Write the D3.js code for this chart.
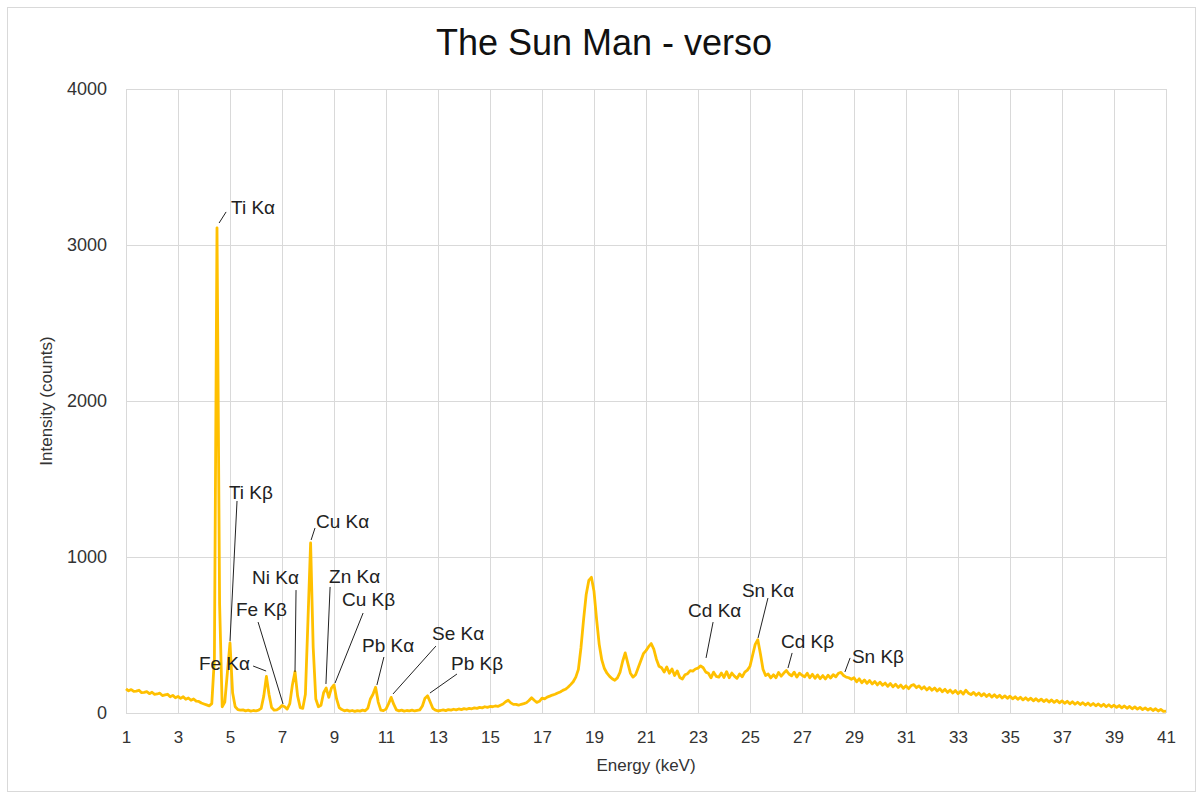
<!DOCTYPE html>
<html><head><meta charset="utf-8">
<script src="https://cdn.jsdelivr.net/npm/d3@7"></script>
<style>
body{margin:0;background:#fff;}
svg{display:block;font-family:"Liberation Sans",Arial,sans-serif;}
</style>
</head><body>
<svg id="chart" width="1203" height="798"></svg>
<script>
// ---------- data ----------
const chartTitle = "The Sun Man - verso";
const xAxisTitle = "Energy (keV)";
const yAxisTitle = "Intensity (counts)";
const xTicks = [1,3,5,7,9,11,13,15,17,19,21,23,25,27,29,31,33,35,37,39,41];
const yTicks = [0,1000,2000,3000,4000];

// spectrum channels: energy calibration (keV) of channel 0 and channel width
const energyStart = 1.0;
const energyStep = 0.1;
// counts per channel, 1.0 keV .. 41.0 keV
const counts = [
  155,142,150,138,140,146,130,132,137,124,
  133,120,122,127,112,116,120,104,113,98,
  106,94,104,88,96,82,90,76,74,64,
  58,52,46,60,350,3110,700,40,70,260,
  450,130,40,22,18,20,14,18,12,16,
  14,18,30,110,235,120,35,18,20,30,
  48,40,25,60,180,265,110,35,30,120,
  600,1090,420,90,40,50,130,160,100,160,
  180,90,35,22,14,18,12,16,10,15,
  12,18,14,30,90,120,165,70,18,15,
  25,60,100,55,20,14,18,12,16,14,
  18,13,17,20,45,95,110,70,30,18,
  14,16,20,15,22,18,24,20,26,22,
  28,24,30,27,33,30,36,33,40,36,
  42,40,45,42,50,58,72,82,65,55,
  55,50,56,60,66,80,98,82,68,75,
  95,90,102,108,115,120,128,135,145,152,
  165,182,200,230,280,420,600,760,850,870,
  780,600,440,340,285,255,235,220,210,225,
  260,330,385,320,255,230,245,290,335,380,
  400,425,445,410,345,300,290,262,295,255,
  282,240,270,228,218,245,252,272,268,282,
  288,302,290,262,255,225,262,235,230,256,
  228,265,226,256,236,222,250,232,262,275,
  300,370,440,470,380,280,240,250,225,245,
  226,260,236,256,272,250,238,262,230,255,
  242,232,255,226,248,222,244,220,240,218,
  242,224,246,232,255,260,240,230,226,216,
  226,200,219,194,212,190,208,186,202,180,
  198,178,192,171,189,168,184,164,179,158,
  174,156,176,182,162,174,154,168,148,164,
  146,160,141,156,136,152,132,147,128,144,
  124,140,121,146,127,118,132,114,128,110,
  124,106,120,102,117,100,114,96,110,94,
  108,91,104,88,101,84,98,82,95,78,
  92,76,89,73,86,70,84,68,81,65,
  78,62,75,59,72,56,69,54,66,51,
  64,48,61,46,58,43,56,40,53,38,
  50,36,48,33,45,30,42,27,39,25,
  36,22,33,19,30,16,27,13,23,11,
  12
];

// peak annotations (data space: keV, counts)
const peakNames   = ["Ti Kα","Ti Kβ","Fe Kα","Fe Kβ","Ni Kα","Cu Kα","Zn Kα","Cu Kβ","Pb Kα","Se Kα","Pb Kβ","Cd Kα","Sn Kα","Cd Kβ","Sn Kβ"];
const leaderFromE = [4.58, 5.00, 6.39, 7.04, 7.50, 8.12, 8.69, 9.04, 10.65, 11.27, 12.69, 23.31, 25.31, 26.46, 28.65];
const leaderFromC = [3141, 462, 269, 58, 263, 1109, 186, 192, 179, 122, 128, 353, 481, 288, 263];
const leaderToE   = [4.85, 5.27, 5.89, 6.08, 7.54, 8.27, 8.85, 10.12, 10.92, 12.92, 13.73, 23.58, 25.69, 26.62, 28.85];
const leaderToC   = [3212, 1359, 301, 583, 788, 1186, 808, 641, 359, 429, 250, 583, 737, 385, 353];
const labelE      = [5.04, 4.96, 5.77, 5.23, 5.85, 8.31, 8.81, 9.31, 10.08, 12.77, 13.50, 22.62, 24.69, 26.19, 28.92];
const labelC      = [3244, 1417, 321, 667, 872, 1231, 878, 731, 436, 513, 321, 660, 788, 462, 365];
const labelAlign  = ["start","start","end","start","start","start","start","start","start","start","start","start","start","start","start"];

// ---------- drawing ----------
const svg = d3.select("#chart");
const W = 1203, H = 798;
const plot = {left:126, right:1166, top:89, bottom:713};

svg.append("rect").attr("x",7.5).attr("y",7.5).attr("width",W-15).attr("height",H-14)
  .attr("fill","#fff").attr("stroke","#d9d9d9").attr("stroke-width",1);

const x = d3.scaleLinear().domain([1,41]).range([plot.left, plot.right]);
const y = d3.scaleLinear().domain([0,4000]).range([plot.bottom, plot.top]);

// gridlines
const gx = svg.append("g").attr("transform",`translate(0,${plot.bottom})`)
  .call(d3.axisBottom(x).tickValues(xTicks).tickSize(-(plot.bottom-plot.top)).tickFormat(""));
gx.select(".domain").remove();
gx.selectAll("line").attr("stroke","#d9d9d9").attr("stroke-width",1);

const gy = svg.append("g").attr("transform",`translate(${plot.left},0)`)
  .call(d3.axisLeft(y).tickValues(yTicks).tickSize(-(plot.right-plot.left)).tickFormat(""));
gy.select(".domain").remove();
gy.selectAll("line").attr("stroke","#d9d9d9").attr("stroke-width",1);

// tick labels
const ax = svg.append("g").attr("transform",`translate(0,${plot.bottom})`)
  .call(d3.axisBottom(x).tickValues(xTicks).tickSize(0).tickPadding(18).tickFormat(d3.format("d")));
ax.select(".domain").remove();
ax.selectAll("text").attr("font-size",17).attr("fill","#333").attr("font-family","Liberation Sans, Arial, sans-serif");

const ay = svg.append("g").attr("transform",`translate(${plot.left},0)`)
  .call(d3.axisLeft(y).tickValues(yTicks).tickSize(0).tickPadding(19).tickFormat(d3.format("d")));
ay.select(".domain").remove();
ay.selectAll("text").attr("font-size",18).attr("fill","#333").attr("font-family","Liberation Sans, Arial, sans-serif");

// titles
svg.append("text").attr("x",604).attr("y",55)
  .attr("text-anchor","middle").attr("font-size",36).attr("fill","#111").text(chartTitle);
svg.append("text").attr("x",(plot.left+plot.right)/2).attr("y",771)
  .attr("text-anchor","middle").attr("font-size",17).attr("fill","#333").text(xAxisTitle);
svg.append("text").attr("transform",`translate(52,${(plot.top+plot.bottom)/2}) rotate(-90)`)
  .attr("text-anchor","middle").attr("font-size",17).attr("fill","#333").text(yAxisTitle);

// spectrum line
const series = counts.map((c,i)=>({e: energyStart + i*energyStep, c}));
svg.append("path").datum(series)
  .attr("fill","none").attr("stroke","#FFC000").attr("stroke-width",2.8)
  .attr("stroke-linejoin","round")
  .attr("d", d3.line().x(d=>x(d.e)).y(d=>y(d.c)));

// annotations
const ann = svg.append("g");
peakNames.forEach((name,i)=>{
  ann.append("line")
    .attr("x1",x(leaderFromE[i])).attr("y1",y(leaderFromC[i]))
    .attr("x2",x(leaderToE[i])).attr("y2",y(leaderToC[i]))
    .attr("stroke","#222").attr("stroke-width",1);
  ann.append("text")
    .attr("x",x(labelE[i])).attr("y",y(labelC[i]))
    .attr("dy","0.35em").attr("text-anchor",labelAlign[i])
    .attr("font-size",19).attr("fill","#222").text(name);
});
</script>
</body></html>
